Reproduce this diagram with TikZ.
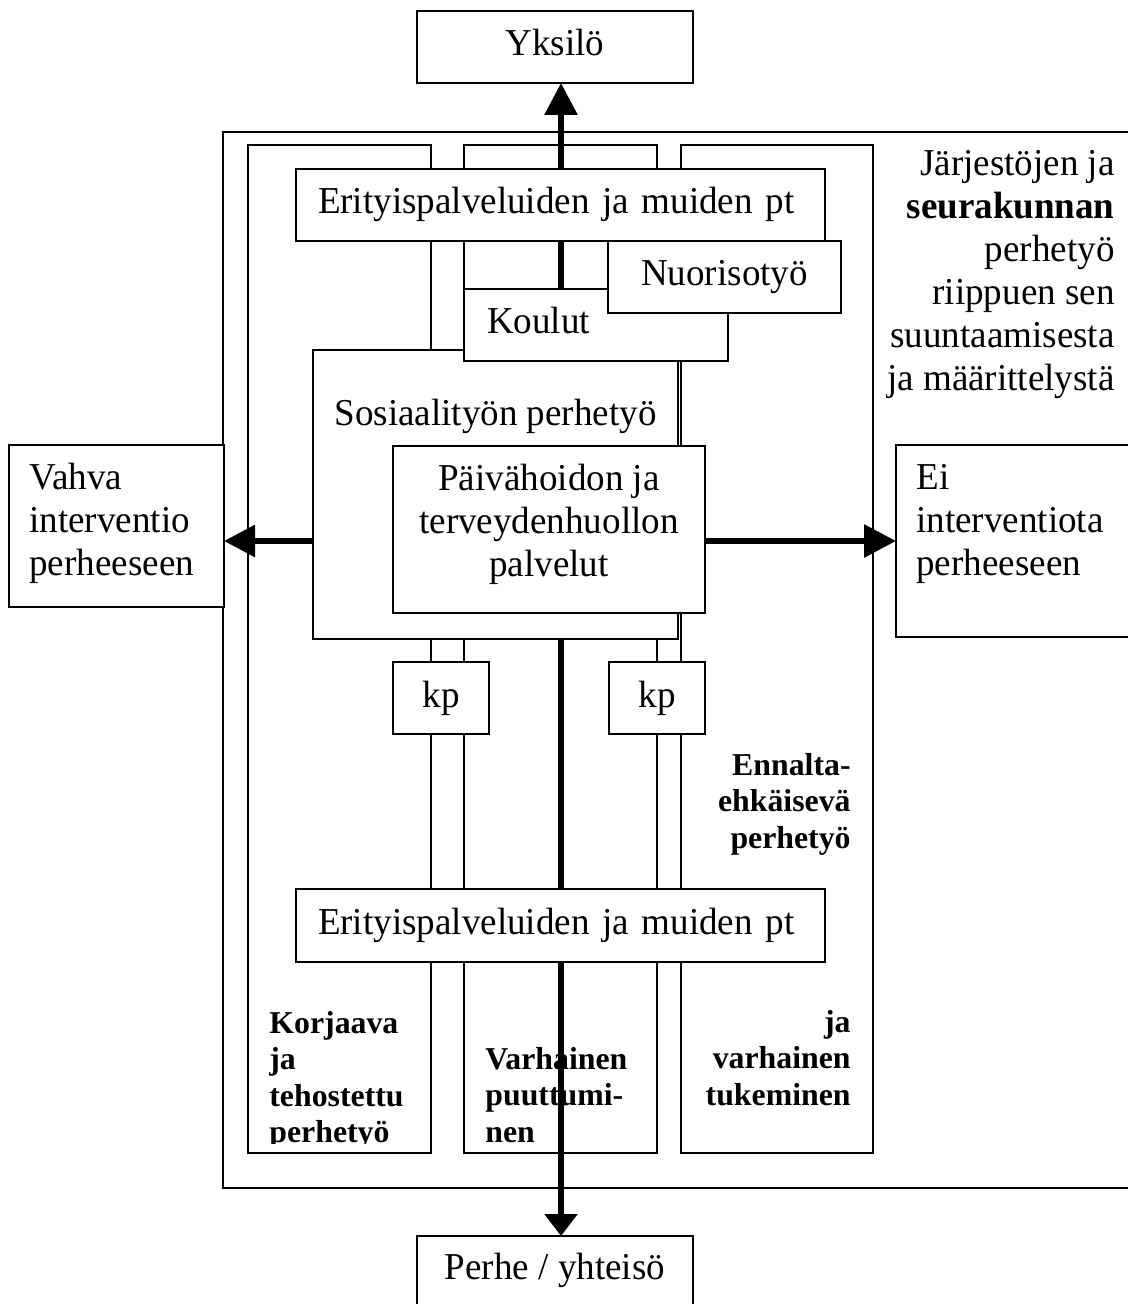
\documentclass[tikz,border=0pt]{standalone}
\usepackage{fontspec}
\setmainfont{Liberation Serif}
\newfontfamily\regfont[FakeStretch=0.975]{Liberation Serif}
\usetikzlibrary{arrows.meta}
\pgfdeclarelayer{lcols}
\pgfdeclarelayer{larrows}
\pgfsetlayers{lcols,larrows,main}
\begin{document}
\begin{tikzpicture}[x=0.5pt,y=-0.5pt,
  box/.style={draw, line width=1pt, fill=white, inner sep=0pt, outer sep=0pt, anchor=north west,
    text height=13pt, text depth=4pt, font=\regfont\fontsize{19}{21.5}\selectfont},
  txt/.style={inner sep=0pt, font=\regfont\fontsize{19}{21.5}\selectfont},
  btxt/.style={inner sep=0pt, font=\fontsize{15.9}{18.25}\selectfont\bfseries},
  thinline/.style={line width=1pt},
  bigline/.style={line width=3pt}]
\useasboundingbox (0,0) rectangle (1128,1304);

% main boxes (drawing order matters)
\node[box, minimum width=182.5pt, minimum height=144.5pt] (sos) at (313,350) {};
\node[txt, anchor=base] (sost) at (495.5,425) {Sosiaalityön perhetyö};
\node[box, minimum width=156pt, minimum height=83.5pt] (pav) at (393,446) {};
\node[txt, anchor=north, align=center] (pavt) at (549,460) {\strut Päivähoidon ja\\terveydenhuollon\\palvelut};
\node[box, minimum width=132pt, minimum height=36pt, text width=109pt, align=left, inner xsep=11.5pt] (koul) at (464,289) {Koulut};
\node[box, minimum width=116.5pt, minimum height=36pt] (nuor) at (608,241) {Nuorisotyö};
\node[box, minimum width=264.5pt, minimum height=36pt, text width=242.5pt, align=left, inner xsep=11pt] (erit1) at (296,169) {Erityispalveluiden ja muiden pt};
\node[box, minimum width=48pt, minimum height=36pt] (kp1) at (393,662) {kp};
\node[box, minimum width=48pt, minimum height=36pt] (kp2) at (609,662) {kp};
\node[box, minimum width=264.5pt, minimum height=36.5pt, text width=242.5pt, align=left, inner xsep=11pt] (erit2) at (296,889) {Erityispalveluiden ja muiden pt};
\node[box, minimum width=138pt, minimum height=36pt] (yks) at (417,11) {Yksilö};
\node[box, draw=none, minimum width=138pt, minimum height=34pt] (perhe) at (417,1236) {Perhe / yhteisö};
\draw[thinline] (perhe.south west) -- (perhe.north west) -- (perhe.north east) -- (perhe.south east);
\node[box, minimum width=107.5pt, minimum height=81pt] (vahva) at (9,445) {};
\node[txt, anchor=north west, align=left] (vahvat) at (29,459) {\strut Vahva\\interventio\\perheeseen};
\node[box, draw=none, minimum width=116pt, minimum height=96pt] (ei) at (896,445) {};
\draw[thinline] (ei.north east) -- (ei.north west) -- (ei.south west) -- (ei.south east);
\node[txt, anchor=north west, align=left] (eit) at (916,459) {\strut Ei\\interventiota\\perheeseen};
\node[txt, anchor=north east, align=right] (jarj) at (1115,145) {\strut Järjestöjen ja\\\textbf{seurakunnan}\\perhetyö\\riippuen sen\\suuntaamisesta\\ja määrittelystä};

% columns and outer frame
\begin{pgfonlayer}{lcols}
\draw[thinline] (1128,131.7) -- (223,131.7) -- (223,1187.5) -- (1128,1187.5);
\node[box, minimum width=91.5pt, minimum height=503.85pt] (col1) at (248,145) {};
\node[box, minimum width=96.25pt, minimum height=503.85pt] (col2) at (464,145) {};
\node[box, minimum width=96pt, minimum height=503.85pt] (col3) at (681,145) {};
\coordinate (clipy) at (0,1143);
\begin{scope}
\clip (col1.north west) rectangle (col1.east |- clipy);
\node[btxt, anchor=north west, align=left] (c1t) at (269,1007.5) {\strut Korjaava\\ja\\tehostettu\\perhetyö};
\end{scope}
\node[btxt, anchor=north west, align=left] (c2t) at (485,1043.5) {\strut Varhainen\\puuttumi-\\nen};
\node[btxt, anchor=north east, align=right] (c3a) at (851,749.2) {\strut Ennalta-\\ehkäisevä\\perhetyö};
\node[btxt, anchor=north east, align=right] (c3b) at (851,1006.5) {\strut ja\\varhainen\\tukeminen};
\end{pgfonlayer}

% arrows
\begin{pgfonlayer}{larrows}
\coordinate (ax) at (561,0);
\coordinate (ay) at (0,541);
\draw[bigline, -{Triangle[width=16pt,length=16pt]}] (koul.north -| ax) -- (yks.south -| ax);
\draw[bigline, -{Triangle[width=16pt,length=11pt]}] (sos.south -| ax) -- (perhe.north -| ax);
\draw[bigline, -{Triangle[width=15.5pt,length=15.5pt]}] (sos.west |- ay) -- (vahva.east |- ay);
\draw[bigline, -{Triangle[width=16pt,length=16pt]}] (pav.east |- ay) -- (ei.west |- ay);
\end{pgfonlayer}
\end{tikzpicture}
\end{document}
